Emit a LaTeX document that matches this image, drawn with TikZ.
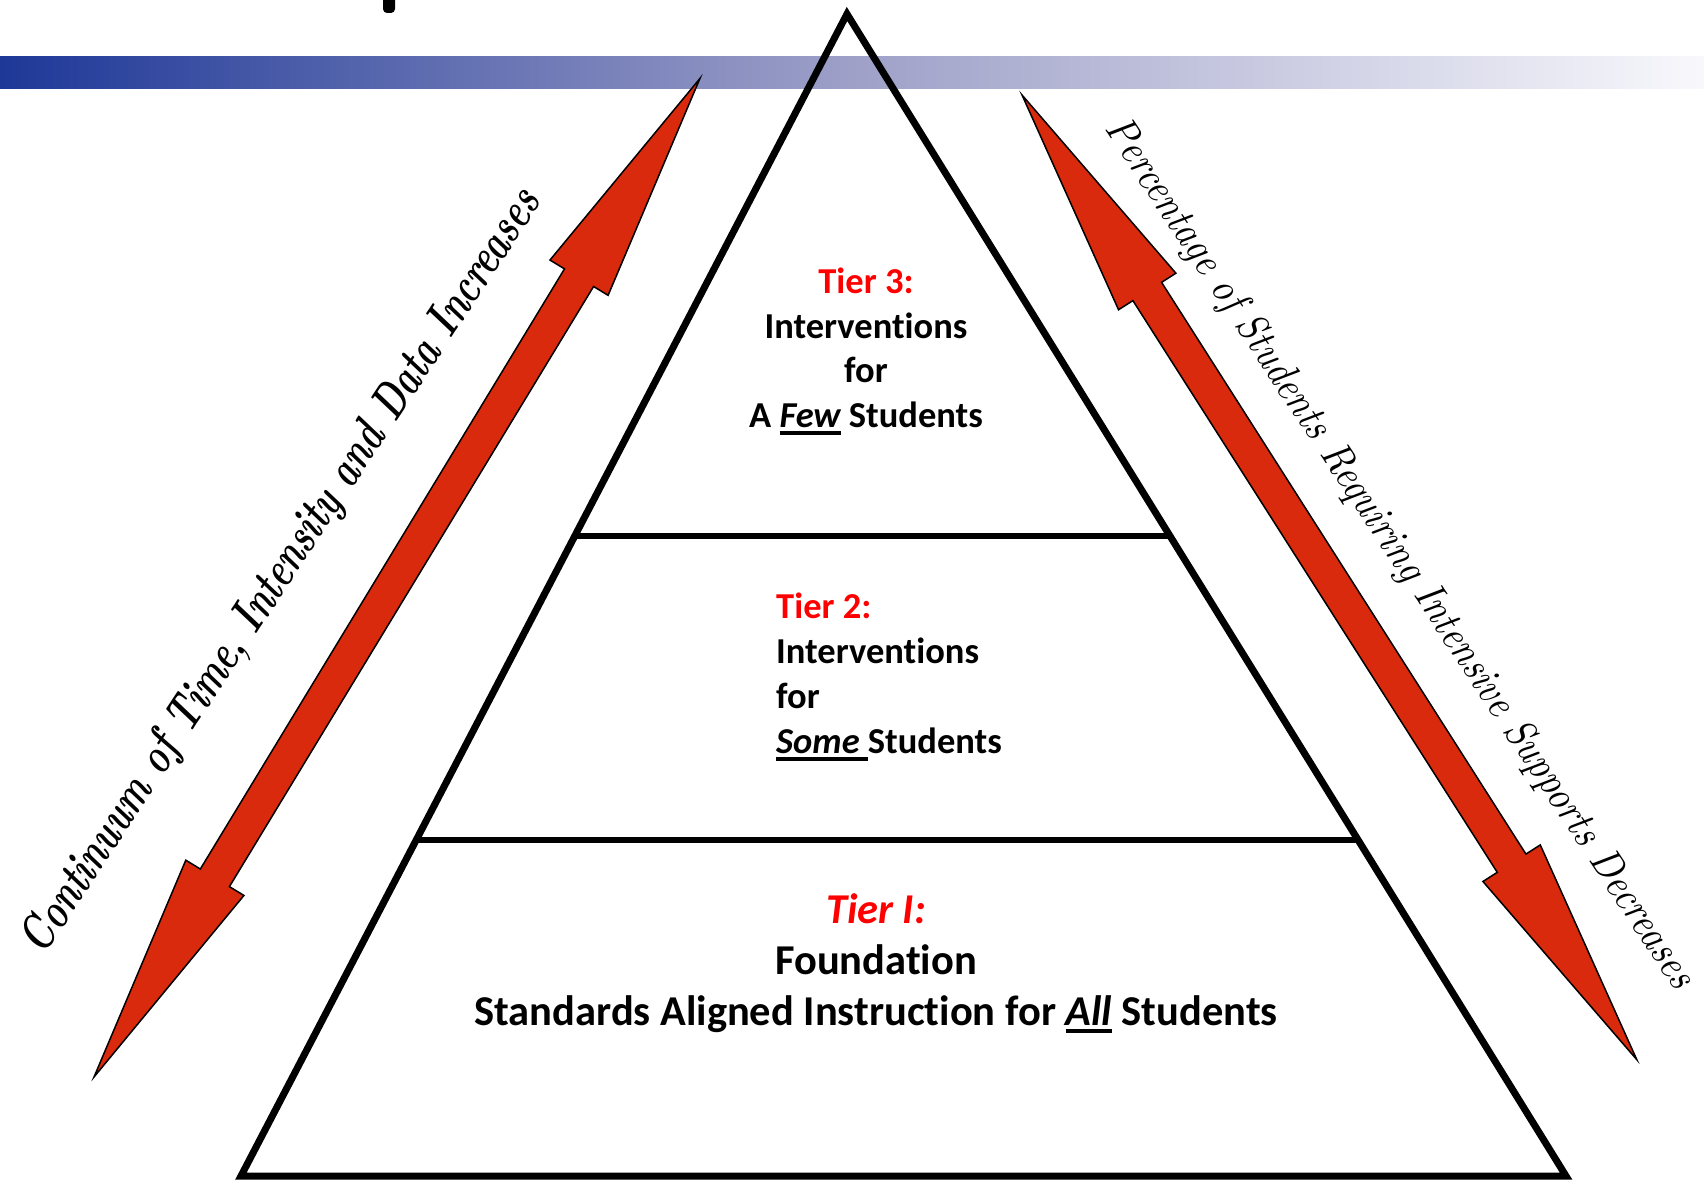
\documentclass[tikz,border=0pt]{standalone}
\usepackage{fontspec}
\usepackage{graphicx}
\usetikzlibrary{calc}
\newfontfamily\calib[Ligatures=NoCommon]{Carlito}
\definecolor{bandL}{RGB}{30,56,152}
\definecolor{bandM}{RGB}{158,160,200}
\definecolor{bandR}{RGB}{248,248,252}
\definecolor{arrred}{RGB}{218,42,13}
\definecolor{tierred}{RGB}{255,0,0}
\newcommand\myul[1]{\setbox0\hbox{#1}\rlap{\rule[-8pt]{\wd0}{4pt}}\box0\relax}
\tikzset{
  tri/.style={line width=7pt, line join=miter, draw=black},
  divider/.style={line width=6.5pt, draw=black},
  arrowstyle/.style={fill=arrred, draw=black, line width=1.5pt, line join=miter},
  tiertxt/.style={inner sep=0pt, anchor=base, font=\calib\bfseries\fontsize{36.5}{44}\selectfont},
  tierbig/.style={inner sep=0pt, anchor=base, font=\calib\bfseries\fontsize{42.5}{51}\selectfont},
  sidetxt/.style={inner sep=0pt, anchor=base}
}
\begin{document}
\begin{tikzpicture}[x=1pt,y=-1pt]
\useasboundingbox (0,0) rectangle (1704,1182);
% header band
\shade[left color=bandL, right color=bandM] (0,57) rectangle (853,89);
\shade[left color=bandM, right color=bandR] (852,57) rectangle (1704,89);
% fragment of cut-off title letter
\fill[black, rounded corners=4pt] (383,-10) rectangle (395,13);
% pyramid
\coordinate (apex) at (847,14);
\coordinate (bl) at (241,1176);
\coordinate (br) at (1566,1176);
\draw[tri] (apex) -- (bl) -- (br) -- cycle;
\draw[divider] ($(apex)!0.4492!(bl)$) -- ($(apex)!0.4492!(br)$);
\draw[divider] ($(apex)!0.7108!(bl)$) -- ($(apex)!0.7108!(br)$);
% left double arrow
\coordinate (la) at (94,1077);
\coordinate (lb) at (700,78);
\begin{scope}[shift={(la)}, rotate=58.75]
\filldraw[arrowstyle] (0,0) -- (233,34) -- (233,17) -- (935,17) -- (935,34) -- (1168,0)
  -- (935,-34) -- (935,-17) -- (233,-17) -- (233,-34) -- cycle;
\end{scope}
% right double arrow
\coordinate (ra) at (1022,95);
\coordinate (rb) at (1637,1060);
\begin{scope}[shift={(ra)}, rotate=-57.49]
\filldraw[arrowstyle] (0,0) -- (233,34) -- (233,17) -- (911,17) -- (911,34) -- (1144,0)
  -- (911,-34) -- (911,-17) -- (233,-17) -- (233,-34) -- cycle;
\end{scope}
% side texts
\node[sidetxt, rotate=56.6] (lefttxt) at (293,579)
  {\resizebox{905pt}{35pt}{\bfseries\itshape Continuum of Time, Intensity and Data Increases}};
\node[sidetxt, rotate=-56.5] (righttxt) at (1390,560)
  {\resizebox{1035pt}{30pt}{\itshape Percentage of Students Requiring Intensive Supports Decreases}};
% tier 3
\node[tiertxt, text=tierred] (t3a) at (866,293) {Tier 3:};
\node[tiertxt] (t3b) at (866,338) {Interventions};
\node[tiertxt] (t3c) at (866,382) {for};
\node[tiertxt] (t3d) at (866,427) {A \myul{\itshape Few} Students};
% tier 2
\node[tiertxt, anchor=base west, text=tierred] (t2a) at (776,618) {Tier 2:};
\node[tiertxt, anchor=base west] (t2b) at (776,663) {Interventions};
\node[tiertxt, anchor=base west] (t2c) at (776,708) {for};
\node[tiertxt, anchor=base west] (t2d) at (776,753) {\myul{\itshape Some }Students};
% tier 1
\node[tierbig, text=tierred] (t1a) at (876,923) {\itshape Tier I:};
\node[tierbig] (t1b) at (876,974) {Foundation};
\node[tierbig] (t1c) at (876,1025) {Standards Aligned Instruction for \myul{\itshape All} Students};
\end{tikzpicture}
\end{document}
